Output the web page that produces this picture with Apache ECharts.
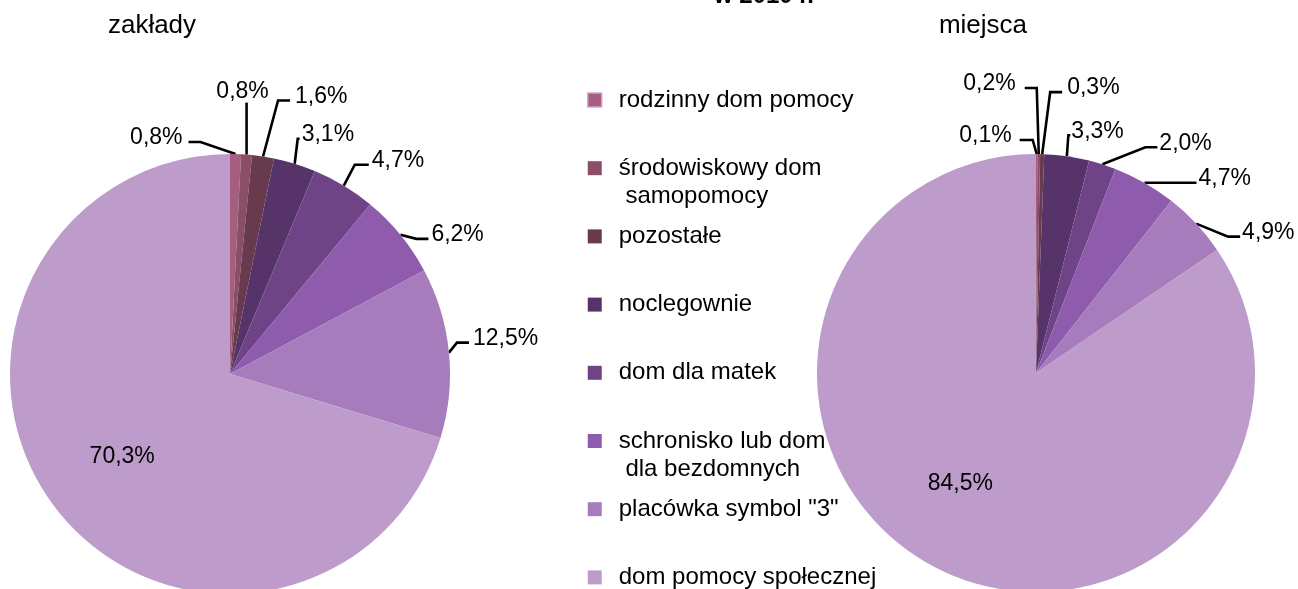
<!DOCTYPE html>
<html><head><meta charset="utf-8">
<script src="https://cdn.jsdelivr.net/npm/echarts@6/dist/echarts.min.js"></script>
<style>html,body{margin:0;padding:0;background:#fff}#c{width:1298px;height:589px}</style>
</head><body><div id="c"></div>
<script>
// ---- data ----
const categories = ['rodzinny dom pomocy', 'środowiskowy dom\n samopomocy', 'pozostałe', 'noclegownie', 'dom dla matek', 'schronisko lub dom\n dla bezdomnych', 'placówka symbol "3"', 'dom pomocy społecznej'];
const zakladyValues = [0.8, 0.8, 1.6, 3.1, 4.7, 6.2, 12.5, 70.3];
const miejscaValues = [0.1, 0.2, 0.3, 3.3, 2.0, 4.7, 4.9, 84.5];
const pieTitles = ['zakłady', 'miejsca'];
const mainTitle = 'w 2010 r.';

// ---- style ----
const colors = ['#A65E7E', '#8A4F67', '#683A4E', '#56346A', '#6F4487', '#8F5BAD', '#A67CBC', '#BD9BCA'];
const FONT = 'Liberation Sans, Arial, sans-serif';
// leader lines relative to the slice anchor: [elbowDx, elbowDy, horizontal, labelGap]; null -> label inside
const zakladyGuides = [[-35, -12, -12, 6], [0, -52, 0], [15, -56, 12, 5], [3, -25, 2, 2], [11, -21, 14, 3], [16, 4, 12, 3], [8, -10, 12, 4], null];
const miejscaGuides = [[-4, -14, -13, 8], [-2, -66, -12, 9], [8, -62, 12, 5], [1.5, -21, 2, 1], [43, -17, 12, 2], [40, 0, 12, 2], [32, 13, 12, 2], null];
const insideOffsets = [[-17, 15], [-23, 11]];

function makeLayout(guides, inside) {
  return function (p) {
    const g = guides[p.dataIndex];
    if (!g) return { dx: inside[0], dy: inside[1] };
    const a = p.labelLinePoints[0];
    const e = [a[0] + g[0], a[1] + g[1]];
    const end = [e[0] + g[2], e[1]];
    const gap = g[3] != null ? g[3] : 3;
    if (g[2] === 0) {
      return { x: end[0] - 4, y: end[1] - 11, align: 'center', verticalAlign: 'middle', labelLinePoints: [a, e, end] };
    }
    return {
      x: end[0] + (g[2] > 0 ? gap : -gap), y: end[1] - 4,
      align: g[2] > 0 ? 'left' : 'right', verticalAlign: 'middle',
      labelLinePoints: [a, e, end]
    };
  };
}

function buildData(values) {
  const last = values.length - 1;
  return values.map((v, i) => {
    const item = { name: categories[i], value: v, itemStyle: { color: colors[i] } };
    if (i === last) {
      item.label = { position: 'inside' };
      item.labelLine = { show: false };
    }
    return item;
  });
}

function pieSeries(values, center, radius, guides, inside) {
  return {
    type: 'pie',
    center: center,
    radius: radius,
    startAngle: 90,
    clockwise: true,
    avoidLabelOverlap: false,
    silent: true,
    data: buildData(values),
    label: {
      show: true,
      position: 'outside',
      alignTo: 'none',
      color: '#000',
      fontFamily: FONT,
      fontSize: 23,
      formatter: p => p.value.toFixed(1).replace('.', ',') + '%'
    },
    labelLine: { show: true, length: 10, length2: 10, lineStyle: { color: '#000', width: 2.6 } },
    labelLayout: makeLayout(guides, inside),
    emphasis: { disabled: true }
  };
}

const legendData = categories.map((c, i) => {
  const d = { name: c };
  if (i === 0) d.itemStyle = { borderColor: '#CBA6D2', borderWidth: 1.5 };
  return d;
});

const chart = echarts.init(document.getElementById('c'), null, { renderer: 'canvas' });
chart.setOption({
  animation: false,
  backgroundColor: '#fff',
  title: [
    { text: mainTitle, left: 764, top: -16, textAlign: 'center', padding: 0,
      textStyle: { fontFamily: FONT, fontSize: 24, fontWeight: 'bold', color: '#000' } },
    { text: pieTitles[0], left: 152, top: 13, textAlign: 'center', padding: 0,
      textStyle: { fontFamily: FONT, fontSize: 26, fontWeight: 'normal', color: '#000' } },
    { text: pieTitles[1], left: 983, top: 13, textAlign: 'center', padding: 0,
      textStyle: { fontFamily: FONT, fontSize: 26, fontWeight: 'normal', color: '#000' } }
  ],
  legend: {
    orient: 'vertical',
    left: 587,
    top: 58,
    height: 900,
    padding: 0,
    itemGap: -15.8,
    itemWidth: 14,
    itemHeight: 14,
    icon: 'rect',
    selectedMode: false,
    data: legendData,
    // every entry is laid out as three text lines so the first text line sits beside the marker
    formatter: name => name.indexOf('\n') >= 0 ? '\n' + name : '\n' + name + '\n',
    textStyle: { fontFamily: FONT, fontSize: 24, lineHeight: 28, color: '#000', padding: [0, 0, 0, 12] }
  },
  series: [
    pieSeries(zakladyValues, [230, 374], 220, zakladyGuides, insideOffsets[0]),
    pieSeries(miejscaValues, [1036, 373], 219, miejscaGuides, insideOffsets[1])
  ]
});
</script>
</body></html>
